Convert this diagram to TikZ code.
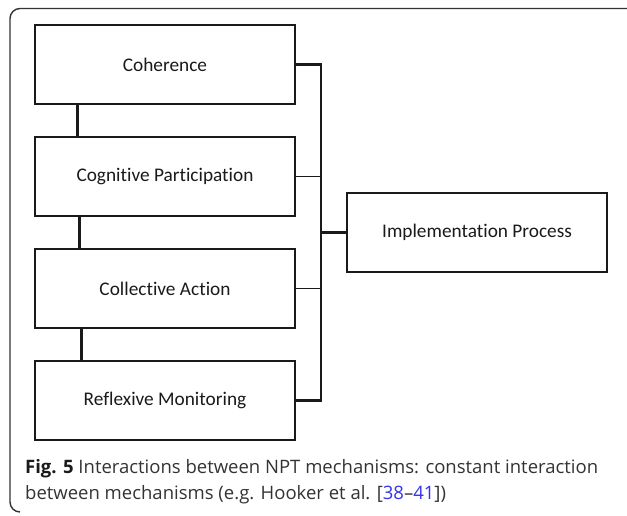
\documentclass[tikz,border=0pt]{standalone}
\usepackage{fontspec}
\setmainfont{Carlito}[Ligatures={NoCommon}]
\newfontfamily\capfont{Open Sans}
\usetikzlibrary{calc}
\definecolor{ink}{HTML}{1A1A1A}
\definecolor{capgray}{HTML}{333333}
\definecolor{refblue}{HTML}{3333EE}
\tikzset{
  mbox/.style={draw=ink, line width=1.7pt, minimum width=260pt, minimum height=79pt,
    inner sep=0pt, text=ink, font=\fontsize{19.3}{23}\selectfont},
  vlink/.style={draw=ink, line width=3pt},
  thickbr/.style={draw=ink, line width=2.4pt},
  thinbr/.style={draw=ink, line width=1.6pt},
  captext/.style={anchor=base west, inner sep=0pt, text=capgray, font=\capfont\fontsize{18.5}{26}\selectfont},
  frame/.style={draw=capgray, line width=1.4pt}
}
\begin{document}
\begin{tikzpicture}[x=1pt,y=-1pt]
\useasboundingbox (0,0) rectangle (627,515);
% outer frame (partially cropped)
\draw[frame, rounded corners=10pt] (627,8.5) -- (10,8.5) -- (10,512) -- (20,512);
% boxes
\node[mbox] (coh) at (165,64.5) {Coherence};
\node[mbox] (cog) at (165,176.5) {Cognitive Participation};
\node[mbox] (col) at (165,288.5) {Collective Action};
\node[mbox] (ref) at (165,400.5) {Reflexive Monitoring};
\node[mbox] (imp) at (477,232.5) {Implementation Process};
% vertical links between boxes
\draw[vlink] ([xshift=43pt]coh.south west) -- ([xshift=43pt]cog.north west);
\draw[vlink] ([xshift=45pt]cog.south west) -- ([xshift=45pt]col.north west);
\draw[vlink] ([xshift=47pt]col.south west) -- ([xshift=47pt]ref.north west);
% bracket
\coordinate (bx) at (321,0);
\draw[thickbr] (coh.east) -- (coh.east -| bx) -- (ref.east -| bx) -- (ref.east);
\draw[thinbr] (cog.east) -- (cog.east -| bx);
\draw[thinbr] (col.east) -- (col.east -| bx);
\draw[thickbr] (imp.west -| bx) -- (imp.west);
% caption
\node[captext] (cap1) at (25,473) {\textbf{\color{ink}Fig. 5} Interactions between NPT mechanisms: constant interaction};
\node[captext] (cap2) at (25,499) {between mechanisms (e.g. Hooker et al. [{\color{refblue}38}–{\color{refblue}41}])};
\end{tikzpicture}
\end{document}
